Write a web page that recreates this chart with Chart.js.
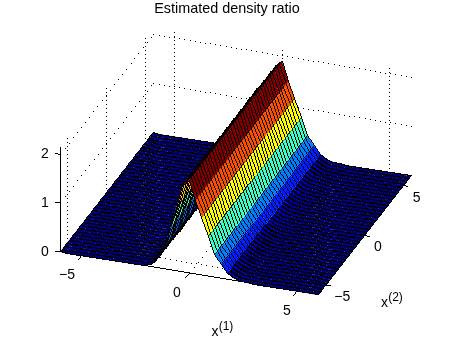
<!DOCTYPE html>
<html><head><meta charset="utf-8">
<style>html,body{margin:0;padding:0;background:#fff}canvas{display:block}</style>
<script src="https://cdn.jsdelivr.net/npm/chart.js@4"></script>
</head><body><canvas id="c" width="454" height="340"></canvas>
<script>
const titleText = "Estimated density ratio";
const x1Grid = [-6,-5.7,-5.4,-5.1,-4.8,-4.5,-4.2,-3.9,-3.6,-3.3,-3,-2.7,-2.4,-2.1,-1.8,-1.5,-1.2,-0.9,-0.6,-0.3,0,0.3,0.6,0.9,1.2,1.5,1.8,2.1,2.4,2.7,3,3.3,3.6,3.9,4.2,4.5,4.8,5.1,5.4,5.7,6];
const x2Grid = [-6,-5.7,-5.4,-5.1,-4.8,-4.5,-4.2,-3.9,-3.6,-3.3,-3,-2.7,-2.4,-2.1,-1.8,-1.5,-1.2,-0.9,-0.6,-0.3,0,0.3,0.6,0.9,1.2,1.5,1.8,2.1,2.4,2.7,3,3.3,3.6,3.9,4.2,4.5,4.8,5.1,5.4,5.7,6];
const ratioProfile = [0,0,0,0,0,0,0,0,0,0,0,0,0.002,0.01,0.05,0.17,0.44,0.85,1.29,1.78,1.9,1.52,1.19,0.82,0.47,0.29,0.13,0.05,0.02,0.006,0,0,0,0,0,0,0,0,0,0,0];
const x1Ticks = [-5,0,5], x2Ticks = [-5,0,5], zTicks = [0,1,2];
const zTop = 2.13, zMaxColor = 1.9;
const lo = -6, hi = 6;

function project(a,b,z){
  const u=a-lo, v=b-lo;
  return {x:60+21.5*u+7.75*v, y:340-(252+3.583*u-9.917*v-49*z)};
}
function jet(t){
  const c=s=>Math.round(255*Math.max(0,Math.min(1,s)));
  const r=Math.min(4*t-1.5,-4*t+4.5), g=Math.min(4*t-0.5,-4*t+3.5), b=Math.min(4*t+0.5,-4*t+2.5);
  return `rgb(${c(r)},${c(g)},${c(b)})`;
}
const datasets=[];
function seg(pts,gap){datasets.push({data:pts,showLine:true,pointRadius:0,borderColor:'#000',borderWidth:0,pixelGap:gap,fill:false,clip:false});}
const vGap=4, hGap=5.5, dGap=7;
// wall and floor grid
for(const t of x2Ticks){seg([project(lo,t,0),project(lo,t,zTop)],vGap);seg([project(lo,t,0),project(hi,t,0)],hGap);}
for(const t of x1Ticks){seg([project(t,hi,0),project(t,hi,zTop)],vGap);seg([project(t,lo,0),project(t,hi,0)],dGap);}
for(const t of zTicks.slice(1)){seg([project(lo,lo,t),project(lo,hi,t)],dGap);seg([project(lo,hi,t),project(hi,hi,t)],hGap);}
// axes
seg([project(lo,lo,0),project(lo,lo,zTop)],0);
seg([project(lo,lo,0),project(hi,lo,0)],0);
seg([project(hi,lo,0),project(hi,hi,0)],0);
for(const t of zTicks)seg([project(lo,lo,t),project(lo-0.2,lo,t)],0);
for(const t of x1Ticks)seg([project(t,lo,0),project(t,lo-0.4,0)],0);
for(const t of x2Ticks)seg([project(hi,t,0),project(hi+0.22,t,0)],0);
// surface cells, back to front; the next cell's fill partly paints over the shared edge
for(let i=0;i<x1Grid.length-1;i++){
  for(let j=x2Grid.length-2;j>=0;j--){
    const a0=x1Grid[i],a1=x1Grid[i+1],b0=x2Grid[j],b1=x2Grid[j+1],z0=ratioProfile[i],z1=ratioProfile[i+1];
    const p=[project(a0,b0,z0),project(a1,b0,z1),project(a1,b1,z1),project(a0,b1,z0)];
    if(i===0)p.push(p[0]);
    datasets.push({data:p,showLine:true,pointRadius:0,borderColor:'#000',borderWidth:0,pixelGap:0,stairs:true,
      backgroundColor:jet(z0/zMaxColor),fill:'shape',clip:false});
  }
}
datasets.forEach((d,i)=>{d.order=datasets.length-i;});

// crisp, non-antialiased strokes along each dataset's own points
const crispLines={id:'crispLines',afterDatasetDraw(chart,args){
  const ds=chart.data.datasets[args.index], pts=args.meta.data, ctx=chart.ctx, gap=ds.pixelGap;
  ctx.save();ctx.fillStyle='#000';
  let acc=0;
  for(let k=0;k+1<pts.length;k++){
    let x0=Math.floor(pts[k].x),y0=Math.floor(pts[k].y);
    const x1=Math.floor(pts[k+1].x),y1=Math.floor(pts[k+1].y);
    const dx=Math.abs(x1-x0),dy=Math.abs(y1-y0),sx=x0<x1?1:-1,sy=y0<y1?1:-1;
    let err=dx-dy;
    for(;;){
      if(!gap||acc<=0){ctx.fillRect(x0,y0,1,1);if(gap)acc+=gap;}
      if(x0===x1&&y0===y1)break;
      const e2=2*err;let st=0,stx=0;
      if(e2>-dy){err-=dy;x0+=sx;stx=1;}
      if(e2<dx){if(ds.stairs&&stx&&dy<dx)ctx.fillRect(x0,y0,1,1);err+=dx;y0+=sy;st=1;}
      if(gap)acc-=Math.hypot(stx,st);
    }
  }
  ctx.restore();
}};
const textPlugin={id:'labels',afterDraw(chart){
  const {ctx,scales:{x,y}}=chart;
  const px=p=>({x:x.getPixelForValue(p.x),y:y.getPixelForValue(p.y)});
  ctx.save();ctx.fillStyle='#000';ctx.textAlign='center';ctx.textBaseline='middle';
  ctx.font='14px "Liberation Sans"';
  const lab=t=>t<0?'\u2212'+(-t):String(t);
  for(const t of zTicks){const q=px(project(lo,lo,t));ctx.fillText(lab(t),q.x-15,q.y);}
  for(const t of x1Ticks){const q=px(project(t,lo,0));ctx.fillText(lab(t),q.x-12+t*0.5,q.y+19.5);}
  for(const t of x2Ticks){const q=px(project(hi,t,0));ctx.fillText(lab(t),q.x+13.5+(t<0?3:0),q.y+12);}
  const q1=px(project(0,lo,0)),q2=px(project(hi,0,0));
  ctx.fillText('x',q1.x+26,q1.y+59);
  ctx.fillText('x',q2.x+20,q2.y+68);
  ctx.font='12px "Liberation Sans"';
  ctx.fillText('(1)',q1.x+37,q1.y+53);
  ctx.fillText('(2)',q2.x+31,q2.y+62);
  ctx.restore();
  // text in the reference is bitmap-style: harden grey antialiasing
  const im=ctx.getImageData(0,0,chart.width,chart.height),d=im.data;
  for(let i=0;i<d.length;i+=4){
    if(Math.abs(d[i]-d[i+1])<12&&Math.abs(d[i+1]-d[i+2])<12&&d[i]>0&&d[i]<255){
      const v=d[i]<175?0:255;d[i]=d[i+1]=d[i+2]=v;
    }
  }
  ctx.putImageData(im,0,0);
}};
const titleH=18;
new Chart(document.getElementById('c'),{type:'scatter',data:{datasets},plugins:[crispLines,textPlugin],options:{
  responsive:false,animation:false,events:[],
  layout:{padding:0},
  plugins:{legend:{display:false},tooltip:{enabled:false},
    filler:{drawTime:'beforeDatasetDraw',propagate:false},
    title:{display:true,text:titleText,color:'#000',font:{family:'"Liberation Sans"',size:14.4,weight:'normal',lineHeight:1.2},padding:{top:0.5,bottom:0.22}}},
  scales:{x:{type:'linear',display:false,min:0,max:454,offset:false},y:{type:'linear',display:false,min:0,max:340-titleH}}
}});
</script></body></html>
